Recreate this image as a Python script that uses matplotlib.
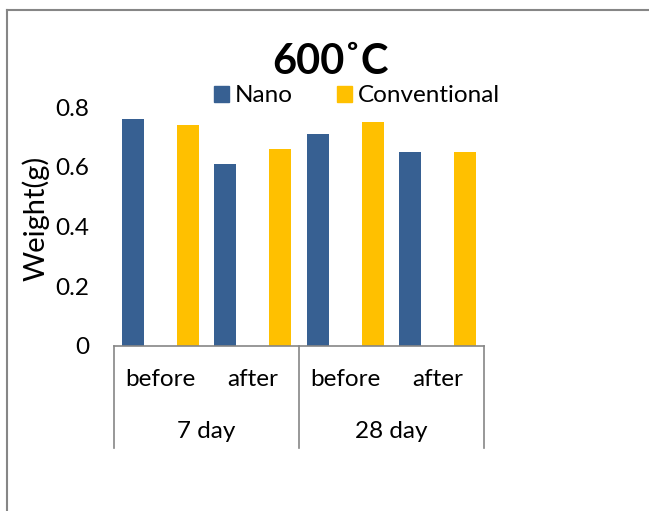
import numpy as np
import matplotlib.pyplot as plt
from matplotlib.patches import Patch
from matplotlib.lines import Line2D

plt.rcParams['font.family'] = ['Lato', 'DejaVu Sans']

# weights before/after for each exposure period
phases = ["before", "after", "before", "after"]
periods = ["7 day", "28 day"]
nano = [0.76, 0.61, 0.71, 0.65]
conventional = [0.74, 0.66, 0.75, 0.65]

blue = "#376092"
gold = "#FFC000"
grey = "#868686"
fs = 17.5

W, H = 649, 511
fig = plt.figure(figsize=(W / 100, H / 100), dpi=100)

# plot area in pixel terms
left, right, top, bottom = 114, 484, 107, 346
ax = fig.add_axes([left / W, 1 - bottom / H, (right - left) / W, (bottom - top) / H])

x = np.arange(len(phases))
w = 0.238
off = 0.297
ax.bar(x - off, nano, w, color=blue, label="Nano")
ax.bar(x + off, conventional, w, color=gold, label="Conventional")

ax.set_xlim(-0.5, len(phases) - 0.5)
ax.set_ylim(0, 0.8)
ax.set_yticks([0, 0.2, 0.4, 0.6, 0.8])
ax.set_yticklabels(["0", "0.2", "0.4", "0.6", "0.8"])
ax.tick_params(axis="y", length=0, labelsize=fs, pad=18)
ax.set_xticks([])
for s in ["top", "right", "left"]:
    ax.spines[s].set_visible(False)
ax.spines["bottom"].set_color(grey)
ax.spines["bottom"].set_linewidth(1.2)

fig.text(36 / W, 1 - 218 / H, "Weight(g)", rotation=90, ha="center", va="center", fontsize=21)

# two-level category axis
tr = ax.get_xaxis_transform()
axh = bottom - top
for xs in [-0.5, 1.5, 3.5]:
    ax.add_line(Line2D([xs, xs], [0, -(448 - bottom) / axh], transform=tr,
                       color=grey, lw=1.2, clip_on=False))
for i, p in enumerate(phases):
    ax.text(i, -(380 - bottom) / axh, p, transform=tr, ha="center", va="center", fontsize=fs)
for j, p in enumerate(periods):
    ax.text(2 * j + 0.5, -(432 - bottom) / axh, p, transform=tr, ha="center", va="center", fontsize=fs)

fig.text(330 / W, 1 - 62 / H, "600˚C", ha="center", va="center", fontsize=30, weight="bold")

handles = [Patch(color=blue), Patch(color=gold)]
fig.legend(handles, ["Nano", "Conventional"], loc="center", bbox_to_anchor=(357 / W, 1 - 96 / H),
           ncol=2, frameon=False, fontsize=fs, handlelength=0.62, handleheight=0.62,
           handletextpad=0.25, columnspacing=1.8, borderpad=0)

# chart area border
fig.add_artist(Line2D([7 / W, 7 / W], [1 - 10 / H, -0.05], transform=fig.transFigure, color=grey, lw=1.5))
fig.add_artist(Line2D([7 / W, 1.05], [1 - 10 / H, 1 - 10 / H], transform=fig.transFigure, color=grey, lw=1.5))

fig.savefig("out.png", dpi=100)
